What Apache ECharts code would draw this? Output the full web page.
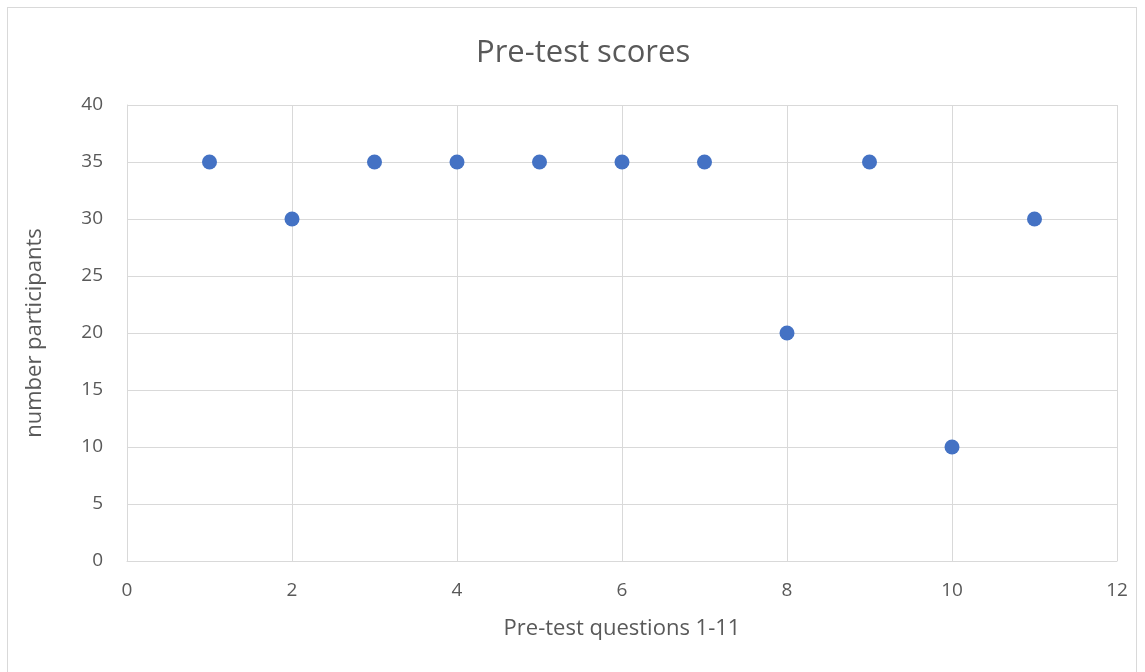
<!DOCTYPE html>
<html>
<head>
<meta charset="utf-8">
<script src="https://cdn.jsdelivr.net/npm/echarts@6/dist/echarts.min.js"></script>
<style>
  html, body { margin: 0; padding: 0; background: #fff; }
  #frame { position: absolute; left: 7px; top: 7px; width: 1130px; height: 670px; border: 1px solid #d9d9d9; box-sizing: border-box; }
  #main { position: absolute; left: 0; top: 0; width: 1145px; height: 672px; }
</style>
</head>
<body>
<div id="frame"></div>
<div id="main"></div>
<script>
// question number vs number of participants
var questions = [1, 2, 3, 4, 5, 6, 7, 8, 9, 10, 11];
var participants = [35, 30, 35, 35, 35, 35, 35, 20, 35, 10, 30];

var seriesData = questions.map(function (q, i) {
    return [q, participants[i]];
});

var myChart = echarts.init(document.getElementById('main'));

var textColor = '#595959';
var lineColor = '#d9d9d9';
var font = 'Open Sans';

myChart.setOption({
    animation: false,
    title: {
        text: 'Pre-test scores',
        left: 471,
        top: 33,
        textStyle: { fontFamily: font, fontSize: 31, fontWeight: 'normal', color: textColor }
    },
    grid: { left: 127, right: 28, top: 105, bottom: 111 },
    xAxis: {
        type: 'value',
        min: 0,
        max: 12,
        interval: 2,
        name: 'Pre-test questions 1-11',
        nameLocation: 'middle',
        nameGap: 57,
        nameTextStyle: { fontFamily: font, fontSize: 22, color: textColor },
        axisLine: { show: true, lineStyle: { color: lineColor, width: 1 } },
        axisTick: { show: false },
        axisLabel: { fontFamily: font, fontSize: 19, color: textColor, margin: 20 },
        splitLine: { show: true, lineStyle: { color: lineColor, width: 1 } }
    },
    yAxis: {
        type: 'value',
        min: 0,
        max: 40,
        interval: 5,
        name: 'number participants',
        nameLocation: 'middle',
        nameGap: 81,
        nameTextStyle: { fontFamily: font, fontSize: 22, color: textColor },
        axisLine: { show: true, lineStyle: { color: lineColor, width: 1 } },
        axisTick: { show: false },
        axisLabel: { fontFamily: font, fontSize: 19, color: textColor, margin: 24 },
        splitLine: { show: true, lineStyle: { color: lineColor, width: 1 } }
    },
    series: [{
        type: 'scatter',
        symbol: 'circle',
        symbolSize: 15,
        itemStyle: { color: '#4472C4', opacity: 1 },
        data: seriesData
    }]
});
</script>
</body>
</html>
